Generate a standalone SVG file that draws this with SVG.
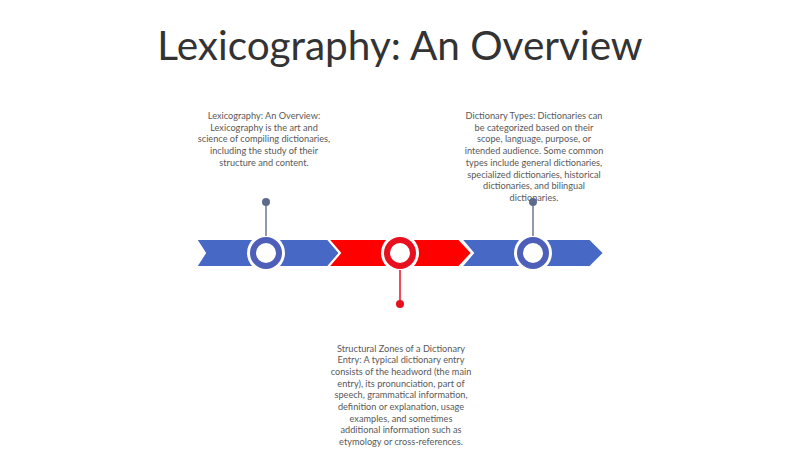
<svg xmlns="http://www.w3.org/2000/svg" width="800" height="449" viewBox="0 0 800 449">
<style>
.title{font-family:Lato,"Liberation Sans",sans-serif;font-size:40.5px;fill:#333333;text-anchor:middle}
.body{font-family:Lato,"Liberation Sans",sans-serif;font-size:9.2px;fill:#595959;text-anchor:middle}
.seg{stroke:#ffffff;stroke-width:2;stroke-linejoin:miter}
.blue{fill:#4868c6}
.red{fill:#ff0000}
.halo{fill:#ffffff}
.ringb{fill:#ffffff;stroke:#4d5fb8;stroke-width:6}
.ringr{fill:#ffffff;stroke:#e8101e;stroke-width:6}
.pinb{stroke:#6b7794;stroke-width:1.5}
.pinr{stroke:#e8101e;stroke-width:1.5}
.dotb{fill:#5d6a8e}
.dotr{fill:#e8101e}
</style>
<rect width="800" height="449" fill="#ffffff"/>
<text class="title" x="400" y="60">Lexicography: An Overview</text>

<g id="timeline">
<polygon class="seg blue" points="196,239 328,239 340,253 328,267 196,267 205,253"/>
<polygon class="seg red" points="328,239 459,239 472,253 459,267 328,267 340,253"/>
<polygon class="seg blue" points="461,239 590,239 604,253 590,267 461,267 473,253"/>
</g>

<g id="node1">
<circle class="halo" cx="266" cy="253" r="19"/>
<circle class="ringb" cx="266" cy="253" r="13"/>
<text class="body" x="264" y="119">Lexicography: An Overview:</text>
<text class="body" x="264" y="131">Lexicography is the art and</text>
<text class="body" x="264" y="142">science of compiling dictionaries,</text>
<text class="body" x="264" y="154">including the study of their</text>
<text class="body" x="264" y="166">structure and content.</text>
</g>

<g id="node2">
<circle class="halo" cx="400" cy="253" r="19"/>
<circle class="ringr" cx="400" cy="253" r="13"/>
<text class="body" x="401" y="352">Structural Zones of a Dictionary</text>
<text class="body" x="401" y="363">Entry: A typical dictionary entry</text>
<text class="body" x="401" y="375">consists of the headword (the main</text>
<text class="body" x="401" y="387">entry), its pronunciation, part of</text>
<text class="body" x="401" y="398">speech, grammatical information,</text>
<text class="body" x="401" y="410">definition or explanation, usage</text>
<text class="body" x="401" y="422">examples, and sometimes</text>
<text class="body" x="401" y="433">additional information such as</text>
<text class="body" x="401" y="445">etymology or cross-references.</text>
</g>

<g id="node3">
<circle class="halo" cx="533" cy="253" r="19"/>
<circle class="ringb" cx="533" cy="253" r="13"/>
<text class="body" x="534" y="119">Dictionary Types: Dictionaries can</text>
<text class="body" x="534" y="131">be categorized based on their</text>
<text class="body" x="534" y="142">scope, language, purpose, or</text>
<text class="body" x="534" y="154">intended audience. Some common</text>
<text class="body" x="534" y="166">types include general dictionaries,</text>
<text class="body" x="534" y="178">specialized dictionaries, historical</text>
<text class="body" x="534" y="189">dictionaries, and bilingual</text>
<text class="body" x="534" y="201">dictionaries.</text>
</g>

<g id="connectors">
<line class="pinb" x1="266" y1="202" x2="266" y2="236"/>
<circle class="dotb" cx="266" cy="202" r="4"/>
<line class="pinr" x1="400" y1="270" x2="400" y2="304"/>
<circle class="dotr" cx="400" cy="304" r="4"/>
<line class="pinb" x1="533" y1="202" x2="533" y2="236"/>
<circle class="dotb" cx="533" cy="202" r="4"/>
</g>
</svg>
